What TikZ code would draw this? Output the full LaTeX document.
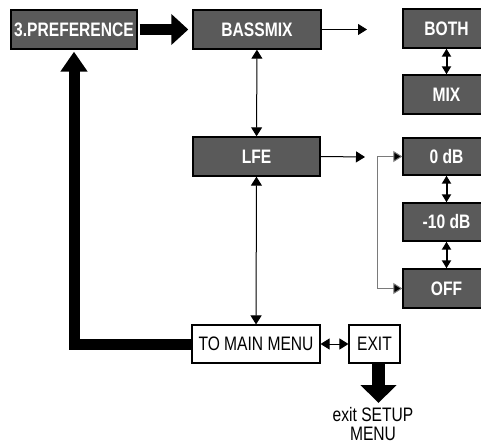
\documentclass[tikz,border=0pt]{standalone}
\usepackage{fontspec}
\setmainfont{Liberation Sans}
\newfontfamily\narrowfont[FakeStretch=0.8]{Liberation Sans}
\usetikzlibrary{arrows.meta}
\definecolor{boxgray}{HTML}{5A5A5A}
\definecolor{linegray}{HTML}{7A7A7A}
\begin{document}
\begin{tikzpicture}[x=1pt,y=-1pt,
  graybox/.style={draw=black,line width=1.4pt,fill=boxgray,text=white,
    font=\narrowfont\bfseries\fontsize{19.5}{20}\selectfont,
    minimum height=39pt,inner sep=0pt,anchor=center},
  whitebox/.style={draw=black,line width=1.1pt,fill=white,text=black,
    font=\narrowfont\fontsize{19.5}{20}\selectfont,
    minimum height=38pt,inner sep=0pt,anchor=center},
  thin arrow/.style={line width=1pt,-{Triangle[width=11pt,length=9pt]}},
  thin darrow/.style={line width=1pt,{Triangle[width=11pt,length=9pt]}-{Triangle[width=11pt,length=9pt]}},
  small darrow/.style={line width=2pt,{Triangle[width=9pt,length=8pt]}-{Triangle[width=9pt,length=8pt]}},
  big arrow/.style={line width=11pt,-{Triangle[width=30pt,length=17pt]}},
]
\useasboundingbox (0,0) rectangle (481,443);

% nodes
\node[graybox,minimum width=126pt] (pref) at (74,29.5) {3.PREFERENCE};
\node[graybox,minimum width=128pt] (bass) at (257,29.5) {BASSMIX};
\node[graybox,minimum width=87pt] (both) at (446.5,28.5) {BOTH};
\node[graybox,minimum width=87pt] (mix) at (446.5,94.5) {MIX};
\node[graybox,minimum width=127pt] (lfe) at (256.5,156.5) {LFE};
\node[graybox,minimum width=87pt,minimum height=37pt] (zero) at (446.5,156.5) {0 dB};
\node[graybox,minimum width=87pt,minimum height=38pt] (minus) at (446.5,222) {-10 dB};
\node[graybox,minimum width=87pt] (off) at (446.5,288.5) {OFF};
\node[whitebox,minimum width=128pt] (main) at (256,344) {TO MAIN MENU};
\node[whitebox,minimum width=51pt] (exit) at (374.5,344) {EXIT};
\node[font=\narrowfont\fontsize{19.5}{19}\selectfont,align=center,inner sep=0pt,anchor=north] (exittext) at (373,407) {exit SETUP\\MENU};

\coordinate (bassend) at (367,29.5);
\coordinate (lfeend) at (365,157);
\coordinate (bracket) at (377,0);
\coordinate (exitend) at (378.5,403);

% connectors
\draw[big arrow,shorten <=2pt,shorten >=4pt] (pref) -- (bass);
\draw[thin arrow] (bass.east) -- (bassend);
\draw[small darrow] (both) -- (mix);
\draw[thin darrow] (bass) -- (lfe);
\draw[thin arrow] (lfe.east) -- (lfeend);
\draw[line width=1pt,draw=linegray] (bracket |- zero.west) -- (bracket |- off.west);
\draw[line width=1pt,draw=linegray,-{Triangle[width=11pt,length=9pt,fill=black]}] (bracket |- zero.west) -- (zero.west);
\draw[line width=1pt,draw=linegray,-{Triangle[width=11pt,length=9pt,fill=black]}] (bracket |- off.west) -- (off.west);
\draw[small darrow] (zero) -- (minus);
\draw[small darrow] (minus) -- (off);
\draw[thin darrow] (lfe) -- (main);
\draw[thin darrow] (main) -- (exit);
\draw[line width=13pt,-{Triangle[width=35pt,length=18pt]}] (exit.south -| exitend) -- (exitend);
\draw[line width=11pt,miter limit=10,-{Triangle[width=26pt,length=20pt]},shorten >=2pt] (main.west) -| (pref.south);
\end{tikzpicture}
\end{document}
